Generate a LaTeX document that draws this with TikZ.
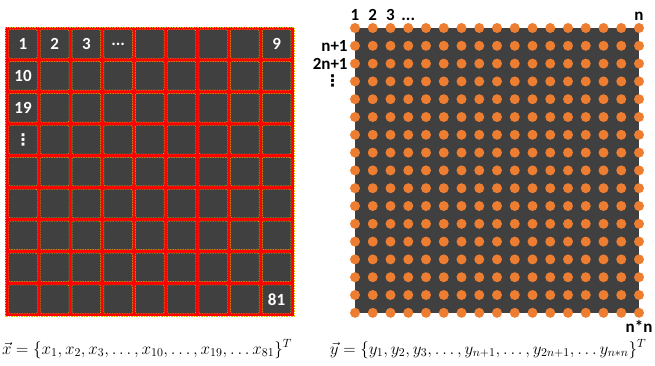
\documentclass[tikz,border=0pt]{standalone}
\usepackage{fix-cm}
\usepackage{amsmath}
\usepackage{fontspec}
\setmainfont{Carlito}
\newfontfamily\dotsfont{DejaVu Sans}
\usetikzlibrary{positioning}
\definecolor{cellgray}{HTML}{404040}
\definecolor{dotorange}{HTML}{ED7D31}
\definecolor{gridred}{HTML}{FF0000}
\definecolor{edgeyellow}{HTML}{D8C200}
\newcommand{\vdts}{{\dotsfont\bfseries ⋮}}

\begin{document}
\begin{tikzpicture}[x=1pt, y=-1pt, font=\bfseries\fontsize{17}{19}\selectfont,
  cell/.style={draw=edgeyellow, dash pattern=on 1.5pt off 1pt, fill=cellgray,
    minimum size=28.5pt, inner sep=0pt, rounded corners=1pt},
  celltxt/.style={text=white, inner sep=0pt},
  pix/.style={circle, fill=dotorange, minimum size=10pt, inner sep=0pt},
  idx/.style={inner sep=1pt},
  eqn/.style={font=\fontsize{17}{19}\selectfont, inner sep=0pt}]

  \useasboundingbox (0,0) rectangle (655,365);

  % ── Input image: 9x9 grid of cells ────────────────────────────────────
  \draw[edgeyellow, dash pattern=on 1.5pt off 1pt, fill=gridred, line width=1pt]
    (5,27) rectangle (294,316);
  \foreach \r in {1,...,9}
    \foreach \c in {1,...,9}
      \node[cell] (x-\r-\c) at ({23+31.7*(\c-1)}, {44+31.9*(\r-1)}) {};

  % cell indices
  \node[celltxt] (lx1) at (x-1-1) {1};
  \node[celltxt] (lx2) at (x-1-2) {2};
  \node[celltxt] (lx3) at (x-1-3) {3};
  \node[celltxt] (lxd) at (x-1-4) {...};
  \node[celltxt] (lx9) at (x-1-9) {9};
  \node[celltxt] (lx10) at (x-2-1) {10};
  \node[celltxt] (lx19) at (x-3-1) {19};
  \node[celltxt, font=\fontsize{16}{17}\selectfont] (lxv) at (x-4-1) {\vdts};
  \node[celltxt] (lx81) at (x-9-9) {81};

  % ── Output: 17x17 grid of points ──────────────────────────────────────
  \fill[cellgray] (355,28) rectangle (639,312.6);
  \foreach \r in {0,...,16}
    \foreach \c in {0,...,16}
      \node[pix] (y-\r-\c) at ({355+17.75*\c}, {28+17.8*\r}) {};

  % point indices
  \node[idx, above=1pt of y-0-0] (ly1) {1};
  \node[idx, above=1pt of y-0-1] (ly2) {2};
  \node[idx, above=1pt of y-0-2] (ly3) {3};
  \node[idx, above=1pt of y-0-3] (lyd) {...};
  \node[idx, above=1pt of y-0-16] (lyn) {n};
  \node[idx, left=1pt of y-1-0] (lyn1) {n+1};
  \node[idx, left=1pt of y-2-0] (ly2n1) {2n+1};
  \node[idx, left=8pt of y-3-0, font=\fontsize{16}{17}\selectfont] (lyv) {\vdts};
  \node[idx, below=1pt of y-16-16] (lynn) {n*n};

  % ── Vector forms ──────────────────────────────────────────────────────
  \node[eqn] (xvec) at (147,349)
    {$\vec{x} = \{x_1, x_2, x_3, \dots, x_{10}, \dots, x_{19}, \dots x_{81}\}^T$};
  \node[eqn] (yvec) at (488,349)
    {$\vec{y} = \{y_1, y_2, y_3, \dots, y_{n+1}, \dots, y_{2n+1}, \dots y_{n*n}\}^T$};

\end{tikzpicture}
\end{document}
